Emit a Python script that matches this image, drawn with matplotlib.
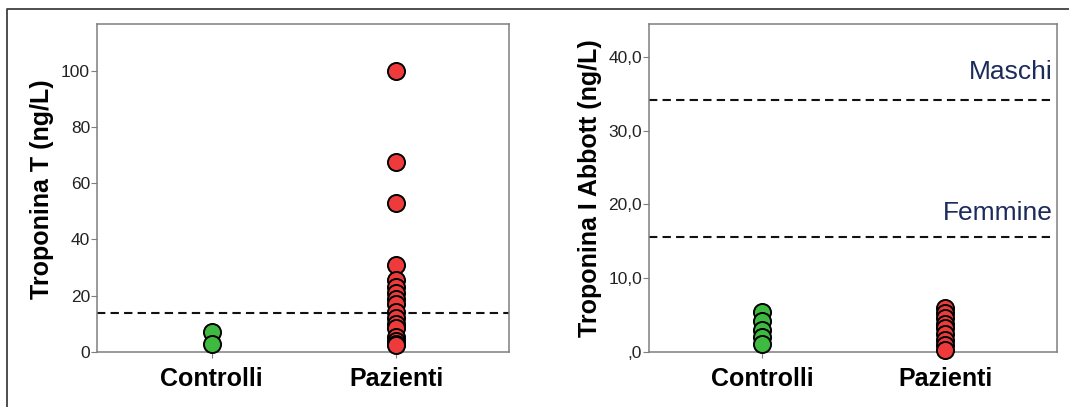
import matplotlib
matplotlib.use('Agg')
import matplotlib.pyplot as plt
from matplotlib.lines import Line2D

plt.rcParams['font.family'] = ['Liberation Sans', 'DejaVu Sans']

# data
groups = ['Controlli', 'Pazienti']

tnt_controlli = [7.0, 3.0]
tnt_pazienti = [100, 67.7, 52.9, 30.9, 25.5, 23, 21, 19, 17, 14.3, 12, 10, 8.5, 5.5, 4, 3, 2.5]
tnt_cutoff = 14

tni_controlli = [5.4, 4.2, 3.0, 2.0, 1.1]
tni_pazienti = [6.0, 5.3, 4.6, 3.8, 3.2, 2.4, 1.6, 0.9, 0.3]
tni_cutoffs = [34.2, 15.6]
tni_cutoff_labels = ['Maschi', 'Femmine']
tni_label_pos = [37.0, 17.9]

green = '#3dba3f'
red = '#ee3a3a'
navy = '#1c2a5c'


def style(ax):
    for s in ax.spines.values():
        s.set_color('#7f7f7f')
        s.set_linewidth(1.1)
    ax.set_xlim(-0.62, 1.61)
    ax.set_xticks([0, 1])
    ax.set_xticklabels(groups, fontsize=18, fontweight='bold')
    ax.tick_params(axis='x', length=4, color='#7f7f7f', pad=7)
    ax.tick_params(axis='y', length=4, color='#7f7f7f', labelsize=12.5,
                   labelcolor='#222222', pad=1)


def dots(ax, x, vals, color):
    ax.plot([x] * len(vals), vals, 'o', ms=12.3, mfc=color, mec='black',
            mew=1.4, clip_on=False, zorder=3)


fig = plt.figure(figsize=(10.69, 4.07), dpi=100)

# left panel: Troponina T
ax1 = fig.add_axes([0.0907, 0.1351, 0.3854, 0.8059])
style(ax1)
ax1.set_ylim(0, 116.6)
ax1.set_yticks([0, 20, 40, 60, 80, 100])
ax1.axhline(tnt_cutoff, color='#111111', lw=1.5, ls=(0, (4, 2.5)), zorder=2)
dots(ax1, 0, tnt_controlli, green)
dots(ax1, 1, tnt_pazienti, red)
fig.text(42 / 1069, 0.536, 'Troponina T (ng/L)', rotation=90, ha='center',
         va='center', fontsize=18, fontweight='bold')

# right panel: Troponina I Abbott
ax2 = fig.add_axes([0.6071, 0.1351, 0.3817, 0.8059])
style(ax2)
ax2.set_ylim(0, 44.47)
ax2.set_yticks([0, 10, 20, 30, 40])
ax2.set_yticklabels([',0', '10,0', '20,0', '30,0', '40,0'])
for c, lab, p in zip(tni_cutoffs, tni_cutoff_labels, tni_label_pos):
    ax2.axhline(c, xmax=0.985, color='#111111', lw=1.5, ls=(0, (4, 2.5)), zorder=2)
    ax2.text(0.99, p, lab, transform=ax2.get_yaxis_transform(), ha='right',
             va='baseline', fontsize=19, color=navy)
dots(ax2, 0, tni_controlli, green)
dots(ax2, 1, tni_pazienti, red)
fig.text(590 / 1069, 0.537, 'Troponina I Abbott (ng/L)', rotation=90,
         ha='center', va='center', fontsize=18, fontweight='bold')

# outer frame (top and left edges)
fig.add_artist(Line2D([7 / 1069, 7 / 1069, 1], [0, 1 - 9 / 407, 1 - 9 / 407],
                      transform=fig.transFigure, color='#404040', lw=1.3))

fig.savefig('out.png', dpi=100)
